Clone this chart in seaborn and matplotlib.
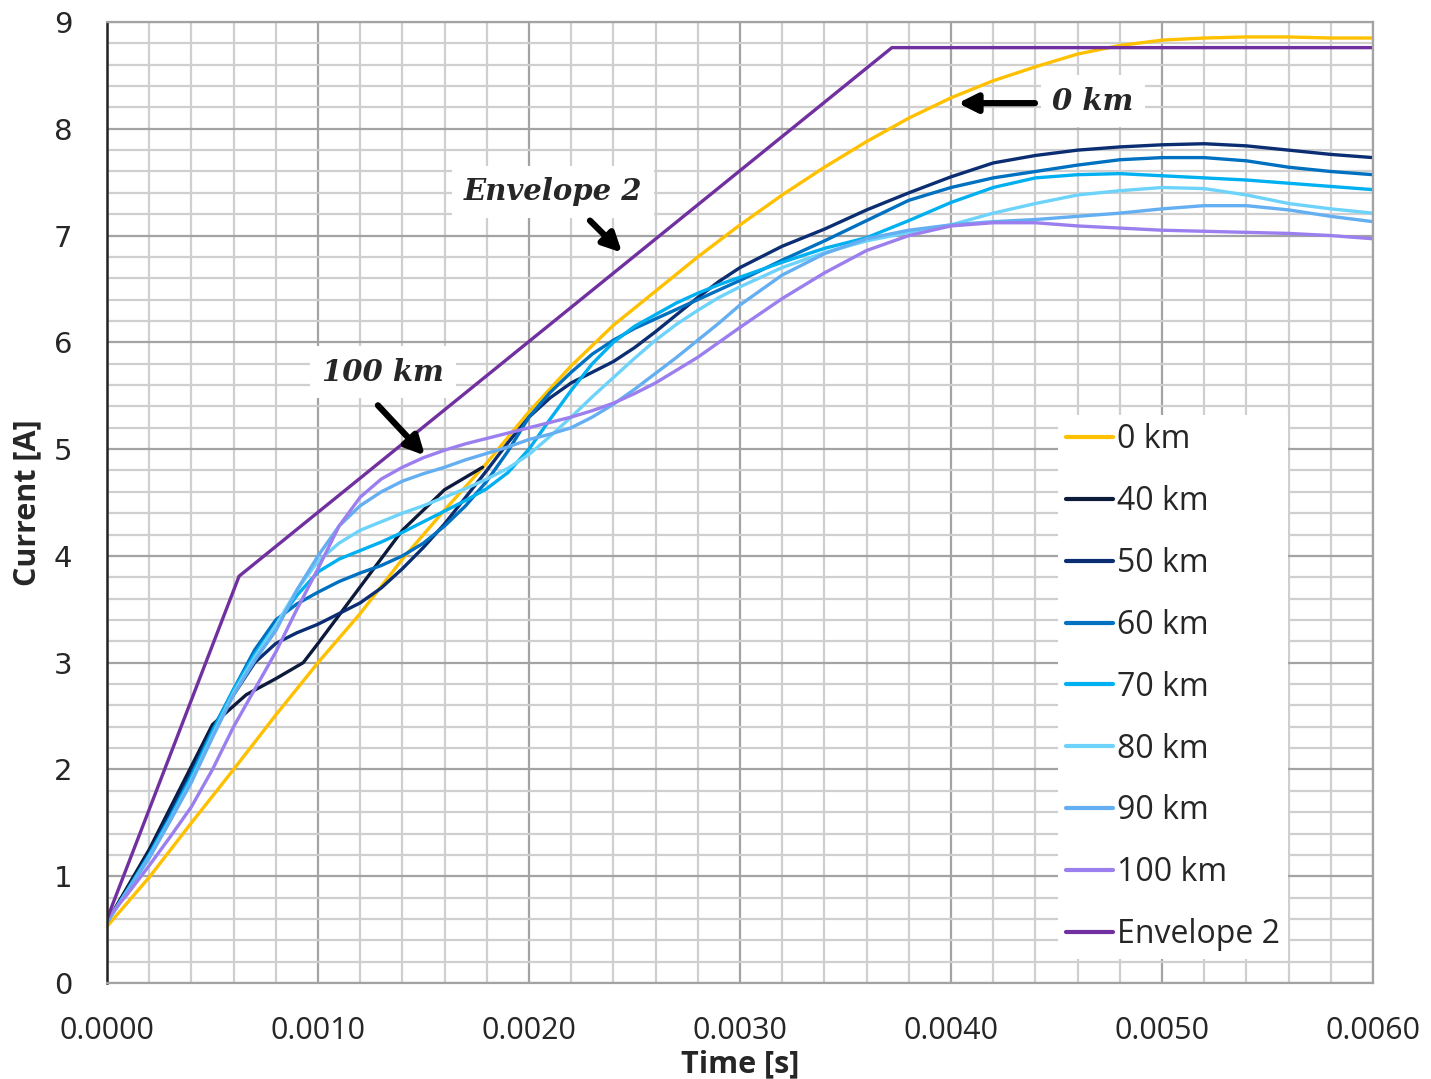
import matplotlib
matplotlib.use("Agg")
import matplotlib.pyplot as plt
import pandas as pd
import seaborn as sns
from matplotlib.ticker import MultipleLocator, FormatStrFormatter

# Coarse sampling instants [s] for the 0 km trace
t_grid = [0.0000, 0.0002, 0.0004, 0.0006, 0.0008, 0.0010, 0.0012, 0.0014,
          0.0016, 0.0018, 0.0020, 0.0022, 0.0024, 0.0026, 0.0028, 0.0030,
          0.0032, 0.0034, 0.0036, 0.0038, 0.0040, 0.0042, 0.0044, 0.0046,
          0.0048, 0.0050, 0.0052, 0.0054, 0.0056, 0.0058, 0.0060]

# Finer sampling during the first 3 ms for the line-length traces
t_fine = [0.0000, 0.0001, 0.0002, 0.0003, 0.0004, 0.0005, 0.0006, 0.0007,
          0.0008, 0.0009, 0.0010, 0.0011, 0.0012, 0.0013, 0.0014, 0.0015,
          0.0016, 0.0017, 0.0018, 0.0019, 0.0020, 0.0021, 0.0022, 0.0023,
          0.0024, 0.0025, 0.0026, 0.0027, 0.0028, 0.0029, 0.0030,
          0.0032, 0.0034, 0.0036, 0.0038, 0.0040, 0.0042, 0.0044, 0.0046,
          0.0048, 0.0050, 0.0052, 0.0054, 0.0056, 0.0058, 0.0060]

i_0km = [0.53, 0.99, 1.50, 2.00, 2.51, 3.00, 3.46, 3.97, 4.43, 4.87, 5.35,
         5.78, 6.16, 6.48, 6.80, 7.10, 7.38, 7.64, 7.88, 8.10, 8.29, 8.45,
         8.58, 8.70, 8.78, 8.83, 8.85, 8.86, 8.86, 8.85, 8.85]

# The 40 km trace is recorded only over the first part of the transient
t_40km = [0.0000, 0.0002, 0.0004, 0.0005, 0.00066, 0.0008, 0.00093, 0.0010,
          0.0012, 0.0014, 0.0016, 0.00178]
i_40km = [0.57, 1.25, 2.03, 2.42, 2.70, 2.85, 3.00, 3.18, 3.71, 4.24, 4.62, 4.83]

i_50km = [0.57, 0.89, 1.22, 1.60, 1.98, 2.38, 2.70, 3.00, 3.18, 3.28, 3.36,
          3.46, 3.56, 3.70, 3.88, 4.08, 4.30, 4.55, 4.80, 5.06, 5.30, 5.48,
          5.62, 5.72, 5.82, 5.95, 6.10, 6.26, 6.42, 6.57, 6.70,
          6.90, 7.06, 7.24, 7.40, 7.55, 7.68, 7.75, 7.80, 7.83, 7.85, 7.86,
          7.84, 7.80, 7.76, 7.73]

i_60km = [0.57, 0.88, 1.20, 1.56, 1.95, 2.37, 2.75, 3.12, 3.40, 3.55, 3.66,
          3.76, 3.84, 3.91, 4.00, 4.12, 4.28, 4.47, 4.70, 4.98, 5.30, 5.53,
          5.72, 5.89, 6.02, 6.13, 6.22, 6.31, 6.40, 6.49, 6.58,
          6.77, 6.95, 7.14, 7.33, 7.45, 7.54, 7.60, 7.66, 7.71, 7.73, 7.73,
          7.70, 7.64, 7.60, 7.57]

i_70km = [0.57, 0.88, 1.20, 1.55, 1.93, 2.35, 2.75, 3.08, 3.35, 3.63, 3.85,
          3.97, 4.05, 4.13, 4.22, 4.32, 4.42, 4.52, 4.63, 4.78, 5.00, 5.28,
          5.55, 5.80, 6.00, 6.15, 6.26, 6.37, 6.46, 6.54, 6.61,
          6.75, 6.88, 6.98, 7.14, 7.31, 7.45, 7.54, 7.57, 7.58, 7.56, 7.54,
          7.52, 7.49, 7.46, 7.43]

i_80km = [0.57, 0.87, 1.18, 1.53, 1.90, 2.32, 2.72, 3.05, 3.35, 3.68, 3.95,
          4.12, 4.24, 4.32, 4.40, 4.47, 4.55, 4.63, 4.72, 4.82, 4.95, 5.12,
          5.30, 5.49, 5.67, 5.85, 6.02, 6.17, 6.30, 6.42, 6.52,
          6.70, 6.84, 6.95, 7.03, 7.10, 7.21, 7.30, 7.38, 7.42, 7.45, 7.44,
          7.38, 7.30, 7.25, 7.21]

i_90km = [0.57, 0.87, 1.17, 1.52, 1.88, 2.30, 2.70, 3.02, 3.30, 3.68, 4.00,
          4.28, 4.47, 4.60, 4.70, 4.77, 4.83, 4.90, 4.96, 5.02, 5.09, 5.14,
          5.20, 5.30, 5.42, 5.56, 5.71, 5.86, 6.02, 6.18, 6.35,
          6.63, 6.83, 6.97, 7.05, 7.10, 7.13, 7.15, 7.18, 7.21, 7.25, 7.28,
          7.28, 7.24, 7.18, 7.13]

i_100km = [0.60, 0.84, 1.10, 1.37, 1.65, 2.00, 2.40, 2.75, 3.10, 3.50, 3.88,
           4.28, 4.55, 4.72, 4.83, 4.92, 4.99, 5.05, 5.10, 5.15, 5.20, 5.25,
           5.30, 5.36, 5.43, 5.52, 5.62, 5.74, 5.86, 6.00, 6.14,
           6.41, 6.65, 6.86, 7.00, 7.09, 7.12, 7.12, 7.09, 7.07, 7.05, 7.04,
           7.03, 7.02, 7.00, 6.97]

# Piecewise-linear envelope
t_env = [0.0000, 0.000626, 0.00372, 0.0060]
i_env = [0.60, 3.81, 8.76, 8.76]

series_names = ["0 km", "40 km", "50 km", "60 km", "70 km", "80 km",
                "90 km", "100 km", "Envelope 2"]
series_colors = ["#FFC000", "#0C1A3C", "#0B2D72", "#0070C0", "#00B0F0",
                 "#6DD3FB", "#64AEF2", "#9B7FEF", "#7030A0"]

traces = [(t_grid, i_0km), (t_40km, i_40km), (t_fine, i_50km),
          (t_fine, i_60km), (t_fine, i_70km), (t_fine, i_80km),
          (t_fine, i_90km), (t_fine, i_100km), (t_env, i_env)]

rows = []
for name, (ts, vals) in zip(series_names, traces):
    for t, v in zip(ts, vals):
        rows.append({"Time": t, "Current": v, "Series": name})
df = pd.DataFrame(rows)

sns.set_style("white")
plt.rcParams["font.family"] = ["Open Sans", "DejaVu Sans"]

fig = plt.figure(figsize=(14.31, 10.79), dpi=100)
ax = fig.add_axes([107 / 1431, 1 - 983 / 1079, (1373 - 107) / 1431, (983 - 22) / 1079])

sns.lineplot(data=df, x="Time", y="Current", hue="Series",
             hue_order=series_names, palette=dict(zip(series_names, series_colors)),
             sort=False, estimator=None, linewidth=2.4, ax=ax)

ax.set_xlim(0, 0.006)
ax.set_ylim(0, 9)
ax.xaxis.set_major_locator(MultipleLocator(0.001))
ax.xaxis.set_minor_locator(MultipleLocator(0.0002))
ax.yaxis.set_major_locator(MultipleLocator(1))
ax.yaxis.set_minor_locator(MultipleLocator(0.2))
ax.xaxis.set_major_formatter(FormatStrFormatter("%.4f"))
ax.grid(which="major", color="#a3a3a3", linewidth=1.6, zorder=0)
ax.grid(which="minor", color="#cfcfcf", linewidth=1.6, zorder=0)
ax.set_axisbelow(True)
ax.tick_params(which="both", length=0)
ax.tick_params(axis="x", pad=24, labelsize=22)
ax.tick_params(axis="y", pad=25, labelsize=21)
for lab in ax.get_yticklabels():
    lab.set_family("DejaVu Sans")

for side in ["top", "right", "bottom"]:
    ax.spines[side].set_color("#a3a3a3")
    ax.spines[side].set_linewidth(1.6)
ax.spines["left"].set_color("#222222")
ax.spines["left"].set_linewidth(1.8)

ax.set_xlabel("Time [s]", fontsize=22, fontweight="bold", labelpad=2)
ax.set_ylabel("Current [A]", fontsize=22, fontweight="bold", labelpad=8)

leg = ax.legend(loc="upper left", bbox_to_anchor=(0.751, 0.591), borderaxespad=0,
                frameon=True, fancybox=False, framealpha=1, edgecolor="none",
                facecolor="white", fontsize=23, handlelength=1.47,
                handletextpad=0.12, labelspacing=0.905, borderpad=0.25)
for line in leg.get_lines():
    line.set_linewidth(3)

# Callouts
note_font = dict(family="DejaVu Serif", fontsize=21, fontweight="bold",
                 style="italic", ha="center", va="center", zorder=6,
                 bbox=dict(boxstyle="square,pad=0.4", fc="white", ec="none"))
arrow = dict(arrowstyle="-|>", color="black", lw=4.5, mutation_scale=28,
             shrinkA=0, shrinkB=0)

ax.text(0.004673, 8.26, "0 km", **note_font)
ax.annotate("", xy=(0.004033, 8.24), xytext=(0.004398, 8.24),
            arrowprops=arrow, zorder=6)

ax.text(0.002114, 7.41, "Envelope 2", **note_font)
ax.annotate("", xy=(0.002441, 6.84), xytext=(0.002289, 7.14),
            arrowprops=arrow, zorder=6)

ax.text(0.001308, 5.72, "100 km", **note_font)
ax.annotate("", xy=(0.001507, 4.94), xytext=(0.001284, 5.41),
            arrowprops=arrow, zorder=6)

fig.savefig("out.png", dpi=100, facecolor="white")
